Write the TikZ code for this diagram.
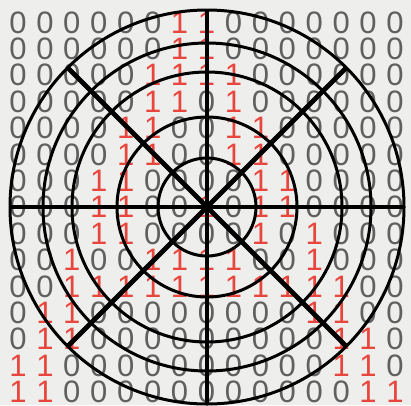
\documentclass[tikz,border=0pt]{standalone}
\usepackage{fontspec}
\setmainfont{Liberation Sans}
\definecolor{bg}{HTML}{EEEEEC}
\definecolor{zerocol}{HTML}{606060}
\definecolor{onecol}{HTML}{E8453C}
\begin{document}
\begin{tikzpicture}[x=1pt,y=-1pt,
  digit/.style={inner sep=0pt,font=\fontsize{31}{31}\selectfont},
  d0/.style={digit,text=zerocol},
  d1/.style={digit,text=onecol},
  ring/.style={line width=3pt,draw=black},
  spoke/.style={line width=4.8pt,draw=black}]
\fill[bg] (0,0) rectangle (411,405);
\useasboundingbox (0,0) rectangle (411,405);
\foreach \row [count=\r] in {
  {0,0,0,0,0,0,1,1,0,0,0,0,0,0,0},
  {0,0,0,0,0,0,1,1,0,0,0,0,0,0,0},
  {0,0,0,0,0,1,1,1,1,0,0,0,0,0,0},
  {0,0,0,0,0,1,1,0,1,0,0,0,0,0,0},
  {0,0,0,0,1,1,0,0,1,1,0,0,0,0,0},
  {0,0,0,0,1,1,0,0,1,1,0,0,0,0,0},
  {0,0,0,1,1,0,0,0,0,1,1,0,0,0,0},
  {0,0,0,1,1,0,0,1,0,1,1,0,0,0,0},
  {0,0,0,1,1,0,0,0,0,1,0,1,0,0,0},
  {0,0,1,0,0,1,1,1,1,0,0,1,0,0,0},
  {0,0,1,1,1,1,1,1,1,1,1,1,1,0,0},
  {0,1,1,0,0,0,0,0,0,0,0,1,1,0,0},
  {0,1,1,0,0,0,0,0,0,0,0,0,1,1,0},
  {1,1,0,0,0,0,0,0,0,0,0,0,1,1,0},
  {1,1,0,0,0,0,0,0,0,0,0,0,0,1,1}} {
  \foreach \b [count=\c] in \row {
    \node[d\b] (d-\r-\c) at ({18+26.93*(\c-1)},{22.5+26.4*(\r-1)}) {\b};
  }
}
\coordinate (O) at (207,207);
\foreach \rad in {197,164,135,90,49}
  \draw[ring] (O) circle[radius=\rad];
\foreach \ang in {0,45,...,315}
  \draw[spoke] (O) -- +(\ang:197);
\end{tikzpicture}
\end{document}
